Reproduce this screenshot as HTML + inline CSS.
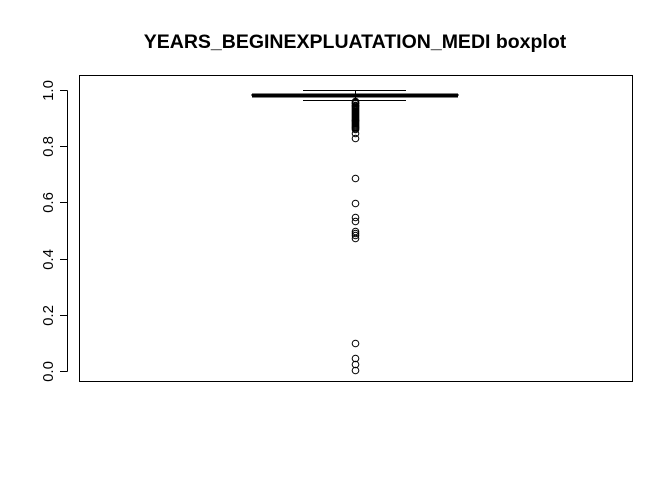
<!DOCTYPE html>
<html><head><meta charset="utf-8"><style>
body{margin:0;background:#fff}
svg{display:block;font-family:"Liberation Sans",Arial,sans-serif}
</style></head><body>
<svg id="chart" width="672" height="480">
<text x="355" y="48" text-anchor="middle" font-size="19.5" font-weight="bold">YEARS_BEGINEXPLUATATION_MEDI boxplot</text>
<rect x="79.5" y="75.5" width="553" height="306" fill="none" stroke="#000" stroke-width="1"/>
<g id="axis"></g>
<g id="box"></g>
</svg>
<script>
const ticks=[0,0.2,0.4,0.6,0.8,1.0];
const tickLabels=["0.0","0.2","0.4","0.6","0.8","1.0"];
const stats=[0.965,0.9807,0.9826,0.9866,1.0];
const outliers=[0.962,0.958,0.955,0.952,0.948,0.945,0.942,0.938,0.935,0.932,0.928,0.925,0.922,0.918,0.915,0.912,0.908,0.905,0.902,0.898,0.895,0.892,0.888,0.885,0.882,0.878,0.875,0.872,0.868,0.865,0.86,0.847,0.829,0.687,0.598,0.548,0.534,0.498,0.49,0.484,0.473,0.1,0.046,0.025,0.002];
const NS="http://www.w3.org/2000/svg";
const y=v=>Math.round(371-v*281)+0.5;
const cx=355.5;
function mk(t,a,p){const e=document.createElementNS(NS,t);for(const k in a)e.setAttribute(k,a[k]);p.appendChild(e);return e;}
const ax=document.getElementById('axis');
mk('line',{x1:67.5,x2:67.5,y1:y(0),y2:y(1),stroke:'#000'},ax);
ticks.forEach((v,i)=>{
  const l=mk('line',{x1:60,x2:67.5,y1:y(v),y2:y(v),stroke:'#000'},ax);
  
  
  const t=mk('text',{x:0,y:0,transform:`translate(53,${y(v)}) rotate(-90)`,'text-anchor':'middle','font-size':15},ax);
  t.textContent=tickLabels[i];
  
  
});
const b=document.getElementById('box');
const [lw,q1,med,q3,uw]=stats;
mk('line',{x1:cx,x2:cx,y1:y(uw),y2:y(q3),stroke:'#000'},b);
mk('line',{x1:cx,x2:cx,y1:y(lw),y2:y(q1),stroke:'#000'},b);
const c1=mk('line',{x1:303,x2:406,y1:y(uw),y2:y(uw),stroke:'#000'},b);


const c2=mk('line',{x1:303,x2:406,y1:y(lw),y2:y(lw),stroke:'#000'},b);


const r=mk('rect',{x:252,y:y(q3),width:206,height:Math.max(1,y(q1)-y(q3)),fill:'none',stroke:'#000'},b);


const m=mk('line',{x1:252,x2:458,y1:y(med),y2:y(med),stroke:'#000','stroke-width':4},b);


outliers.forEach(v=>{
  const c=mk('circle',{cx:cx,cy:y(v),r:3.3,fill:'none',stroke:'#000','stroke-width':1},b);
  
  
});
</script>
</body></html>
